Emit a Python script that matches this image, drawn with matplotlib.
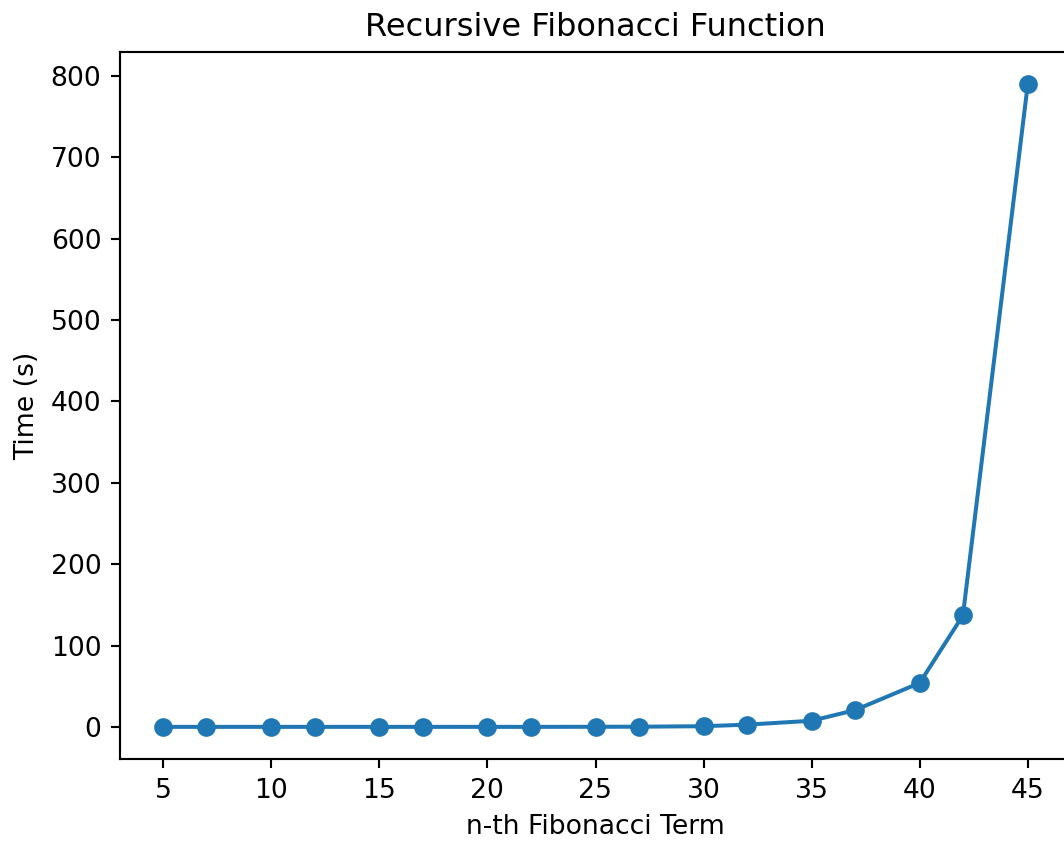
import matplotlib
matplotlib.use("Agg")
import matplotlib.pyplot as plt

# n-th term and measured time (s)
terms = [5, 7, 10, 12, 15, 17, 20, 22, 25, 27, 30, 32, 35, 37, 40, 42, 45]
times = [0.0, 0.0, 0.0, 0.0, 0.0, 0.0, 0.0, 0.0, 0.1, 0.2, 0.8, 2.7, 7.5, 20.5, 54.0, 137.0, 790.0]

fig = plt.figure(figsize=(1064 / 192, 841 / 192), dpi=192)
ax = fig.add_axes([120 / 1064, 82 / 841, 951 / 1064, 707 / 841])

ax.plot(terms, times, marker='o')
ax.set_xticks([5, 10, 15, 20, 25, 30, 35, 40, 45])
ax.set_title("Recursive Fibonacci Function")
ax.set_xlabel("n-th Fibonacci Term")
ax.set_ylabel("Time (s)")

fig.savefig("out.png", dpi=192)
